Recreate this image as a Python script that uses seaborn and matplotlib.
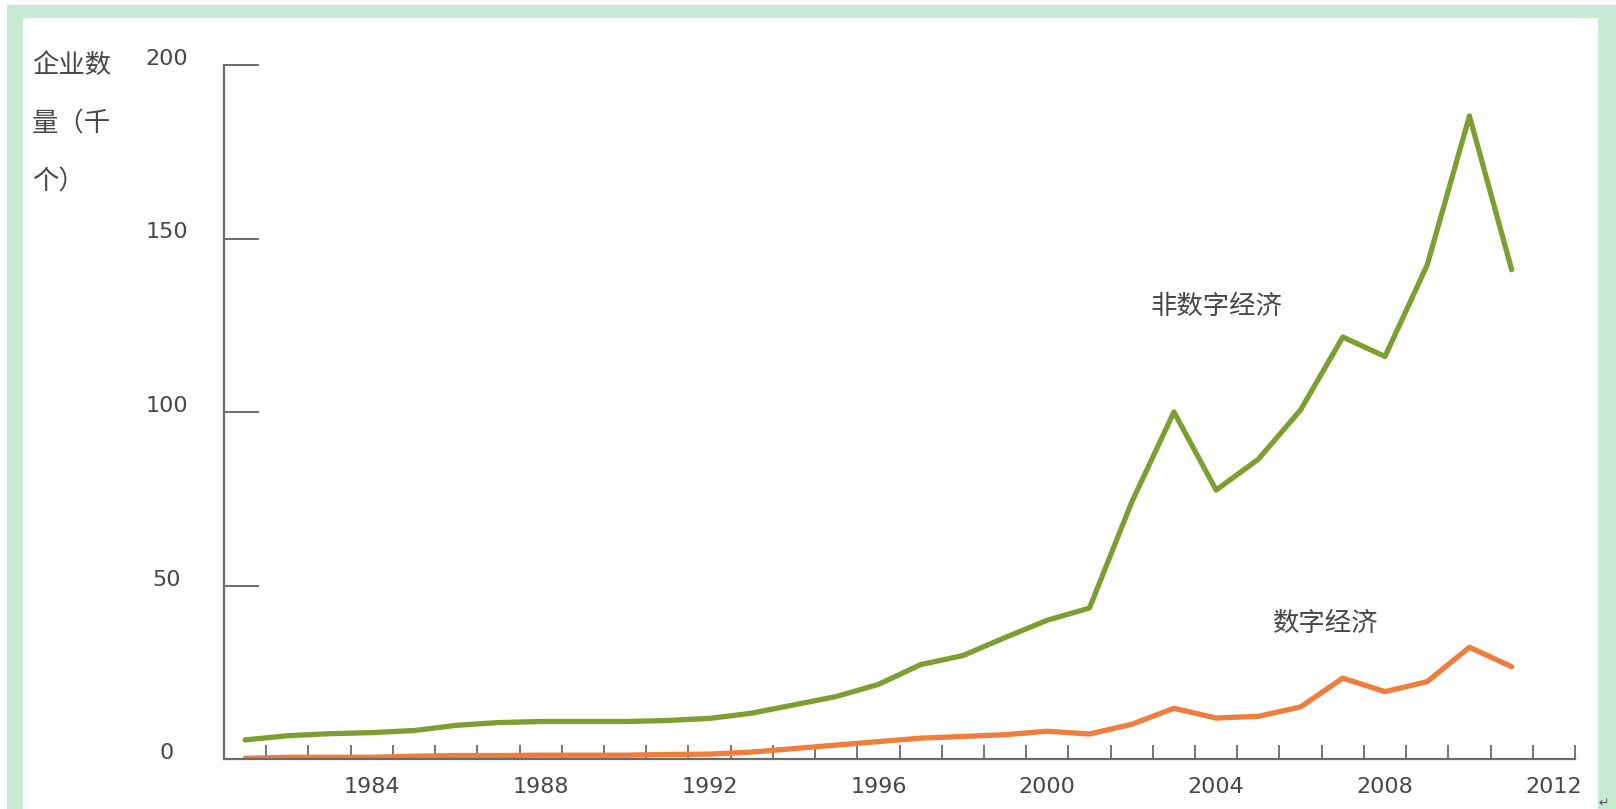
import matplotlib
matplotlib.use("Agg")
import matplotlib.pyplot as plt
from matplotlib.patches import Rectangle
import seaborn as sns

# Number of firms (thousands) per year
years = list(range(1981, 2012))
non_digital = [5.5, 6.7, 7.3, 7.6, 8.2, 9.7, 10.5, 10.8, 10.8, 10.8,
               11.1, 11.7, 13.2, 15.6, 18.0, 21.5, 27.2, 29.8, 35.0, 40.0,
               43.5, 74.0, 100.0, 77.5, 86.4, 100.6, 121.6, 116.0, 142.4, 185.3,
               141.0]
digital = [0.2, 0.5, 0.5, 0.5, 0.8, 1.0, 1.0, 1.1, 1.1, 1.1,
           1.3, 1.4, 2.0, 3.0, 4.0, 5.0, 6.0, 6.5, 7.0, 8.0,
           7.2, 10.0, 14.6, 11.8, 12.3, 15.0, 23.3, 19.4, 22.3, 32.2,
           26.6]

series_names = ["非数字经济", "数字经济"]
ylabel_lines = ["企业数", "量（千", "个）"]
y_ticks = [0, 50, 100, 150, 200]
x_label_years = [1984, 1988, 1992, 1996, 2000, 2004, 2008, 2012]

GREEN = "#7f9e32"
ORANGE = "#ef7d3c"
AXIS = "#6b6b6b"
TEXT = "#474747"
FRAME = "#c6ead2"
CJK = ["Noto Sans CJK SC", "DejaVu Sans"]

sns.set_style("white")
plt.rcParams["font.family"] = ["DejaVu Sans", "Noto Sans CJK SC"]

W, H = 1616, 809
fig = plt.figure(figsize=(W / 100, H / 100), dpi=100)
fig.patch.set_facecolor("white")

# light green page frame (top, left, right)
for x0, y0, x1, y1 in [(7, 5, W, 18), (7, 5, 23, H), (1598, 5, W, H)]:
    fig.add_artist(Rectangle((x0 / W, 1 - y1 / H), (x1 - x0) / W, (y1 - y0) / H,
                             transform=fig.transFigure, facecolor=FRAME,
                             edgecolor="none", zorder=0))

ax = fig.add_axes([224 / W, 50 / H, (1575 - 224) / W, 694 / H])
ax.set_facecolor("none")

sns.lineplot(x=years, y=non_digital, color=GREEN, linewidth=3.8, ax=ax)
sns.lineplot(x=years, y=digital, color=ORANGE, linewidth=3.8, ax=ax)

ax.set_xlim(1980.5, 2012.5)
ax.set_ylim(0, 200)

for side in ["top", "right"]:
    ax.spines[side].set_visible(False)
for side in ["left", "bottom"]:
    ax.spines[side].set_color(AXIS)
    ax.spines[side].set_linewidth(1.6)

# y axis: long inward ticks, labels floating just above each tick
ax.set_yticks(y_ticks)
ax.tick_params(axis="y", which="major", left=True, direction="in", length=25,
               width=1.4, color=AXIS, pad=41, labelsize=16, labelcolor=TEXT)
for lbl in ax.get_yticklabels():
    lbl.set_horizontalalignment("center")
    lbl.set_verticalalignment("baseline")

# x axis: a tick at every year boundary, labels every four years
ax.set_xticks(x_label_years)
ax.set_xticklabels([str(y) for y in x_label_years])
ax.set_xticks([y + 0.5 for y in range(1981, 2013)], minor=True)
ax.tick_params(axis="x", which="major", bottom=True, length=0, pad=13,
               labelsize=16, labelcolor=TEXT)
ax.tick_params(axis="x", which="minor", bottom=True, direction="in", length=10,
               width=1.3, color=AXIS)
ax.set_xlabel("")
ax.set_ylabel("")

# series labels
ax.text(2004.0, 130.5, series_names[0], ha="center", va="center",
        fontsize=19, color=TEXT, family=CJK)
ax.text(2006.6, 39.2, series_names[1], ha="center", va="center",
        fontsize=19, color=TEXT, family=CJK)

# stacked y-axis title
for i, line in enumerate(ylabel_lines):
    fig.text(32 / W, 1 - (65 + 58.5 * i) / H, line, ha="left", va="center",
             fontsize=19, color=TEXT, family=CJK)

fig.text(1604 / W, 1 - 803 / H, "↵", ha="center", va="center",
         fontsize=9, color="#555555")

fig.savefig("out.png", dpi=100, facecolor="white")
